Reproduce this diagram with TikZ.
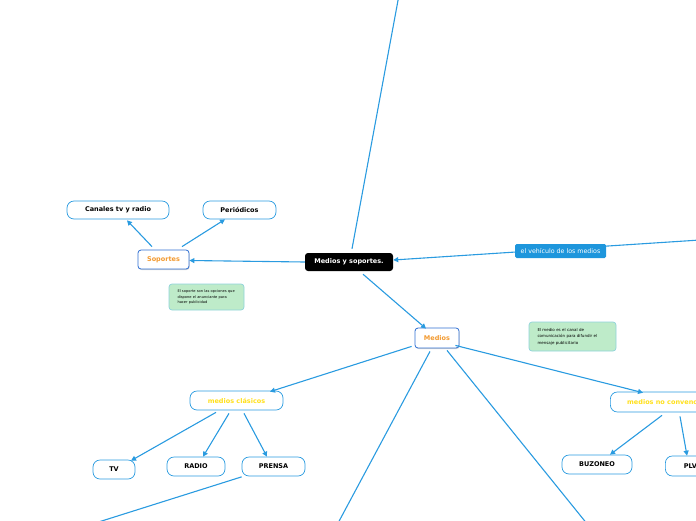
\documentclass[tikz,border=0pt]{standalone}
\usepackage{fontspec}
\setmainfont{DejaVu Sans}
\usetikzlibrary{arrows.meta,shadows,calc}
\definecolor{lineblue}{HTML}{2A9BE0}
\definecolor{darkblue}{HTML}{2F6FD2}
\definecolor{lblfill}{HTML}{1E96DC}
\definecolor{orangetxt}{HTML}{F39A30}
\definecolor{yellowtxt}{HTML}{FFE01A}
\definecolor{notefill}{HTML}{BEEBC9}
\definecolor{noteborder}{HTML}{8FD3DA}
\tikzset{
  conn/.style={draw=lineblue,line width=1.1pt},
  arr/.style={conn,-{Triangle[length=5pt,width=5pt]}},
  pill/.style={draw=lineblue,line width=0.7pt,fill=white,rounded corners=7pt,font=\fontsize{6.5}{7}\selectfont\bfseries,inner sep=0pt,minimum height=19pt},
  mainbox/.style={draw=darkblue,line width=0.8pt,fill=white,rounded corners=3pt,font=\fontsize{6.5}{7}\selectfont\bfseries,text=orangetxt,inner sep=0pt,minimum height=19pt,drop shadow={opacity=0.35,shadow xshift=0.6pt,shadow yshift=-1pt}},
  rootbox/.style={fill=black,rounded corners=3pt,font=\fontsize{6.5}{7}\selectfont\bfseries,text=white,inner sep=0pt,minimum height=18pt},
  lblbox/.style={fill=lblfill,rounded corners=1.5pt,font=\fontsize{6.3}{7}\selectfont,text=white,inner sep=0pt,minimum height=14pt},
  notebox/.style={draw=noteborder,line width=0.7pt,fill=notefill,rounded corners=3pt,font=\fontsize{3.6}{5.2}\selectfont,align=left,inner sep=0pt,text width=68pt}
}
\begin{document}
\begin{tikzpicture}[x=1pt,y=-1pt]
\useasboundingbox (0,0) rectangle (696,520);
\clip (0,0) rectangle (696,520);
% nodes
\node[rootbox,minimum width=88pt] (ms) at (349,262) {Medios y soportes.};
\node[mainbox,minimum width=51pt] (sop) at (163.5,259.5) {Soportes};
\node[pill,minimum width=102pt,minimum height=18pt] (can) at (118,210) {Canales tv y radio};
\node[pill,minimum width=73pt,minimum height=18pt] (per) at (239.5,210) {Periódicos};
\node[notebox,minimum width=75pt,minimum height=26pt] (n1) at (206.5,297) {\hspace*{5pt}El soporte son las opciones que\\\hspace*{5pt}dispone el anunciante para\\\hspace*{5pt}hacer publicidad};
\node[mainbox,minimum width=44pt,minimum height=20pt] (med) at (437,338) {Medios};
\node[notebox,minimum width=87pt,minimum height=29pt,text width=82pt,font=\fontsize{4}{6.4}\selectfont] (n2) at (572.5,336.5) {\hspace*{6pt}El medio es el canal de\\\hspace*{6pt}comunicación para difundir el\\\hspace*{6pt}mensaje publicitario};
\node[pill,minimum width=93pt,text=yellowtxt] (cla) at (236.5,400.5) {medios clásicos};
\node[pill,minimum width=42pt] (tv) at (114,469.5) {TV};
\node[pill,minimum width=58pt] (rad) at (196,466.5) {RADIO};
\node[pill,minimum width=63pt] (pre) at (273.5,466.5) {PRENSA};
\node[pill,minimum width=130pt,minimum height=20pt,anchor=west,text=yellowtxt] (nc) at (610,402) {medios no convencionales};
\node[pill,minimum width=70pt] (buz) at (597,464.5) {BUZONEO};
\node[pill,minimum width=50pt,minimum height=20pt,anchor=west] (plv) at (665,466) {PLV};
% free ends
\coordinate (topend) at (399,-5);
\coordinate (rightend) at (700,240);
\coordinate (prend) at (89,525);
\coordinate (b1) at (337,525);
\coordinate (b2) at (588,525);
% connectors
\draw[conn] ([xshift=3pt,yshift=4pt]ms.north) -- (topend);
\draw[arr] (rightend) -- ([yshift=2pt]ms.east);
\node[lblbox,minimum width=91pt] (veh) at (560.5,251) {el vehículo de los medios};
\draw[arr] (ms.west) -- ([yshift=-1pt]sop.east);
\draw[arr] ([xshift=-11.5pt,yshift=3pt]sop.north) -- ([xshift=9pt,yshift=-1pt]can.south);
\draw[arr] ([xshift=18.5pt,yshift=3pt]sop.north) -- ([xshift=-14.5pt]per.south);
\draw[arr] ([xshift=14pt,yshift=-3pt]ms.south) -- ([xshift=-11pt,yshift=-1pt]med.north);
\draw[arr] ([xshift=-3pt,yshift=2pt]med.south west) -- ([xshift=33.5pt,yshift=-1pt]cla.north);
\draw[arr] ([xshift=-20.5pt,yshift=-2pt]cla.south) -- ([xshift=17pt,yshift=-1pt]tv.north);
\draw[arr] ([xshift=-7.5pt,yshift=-3pt]cla.south) -- ([xshift=7pt]rad.north);
\draw[arr] ([xshift=7.5pt,yshift=-3pt]cla.south) -- ([xshift=-6.5pt]pre.north);
\draw[conn] ([yshift=-0.5pt]pre.south west) -- (prend);
\draw[arr] ([xshift=-4pt,yshift=3pt]med.south east) -- ([xshift=33pt,yshift=-1pt]nc.north west);
\draw[conn] ([xshift=-7pt,yshift=-3pt]med.south) -- (b1);
\draw[conn] ([xshift=10pt,yshift=-2pt]med.south) -- (b2);
\draw[arr] ([xshift=52pt,yshift=-3pt]nc.south west) -- ([xshift=13pt]buz.north);
\draw[arr] ([xshift=70pt,yshift=-4pt]nc.south west) -- ([xshift=22pt]plv.north west);
\end{tikzpicture}
\end{document}
